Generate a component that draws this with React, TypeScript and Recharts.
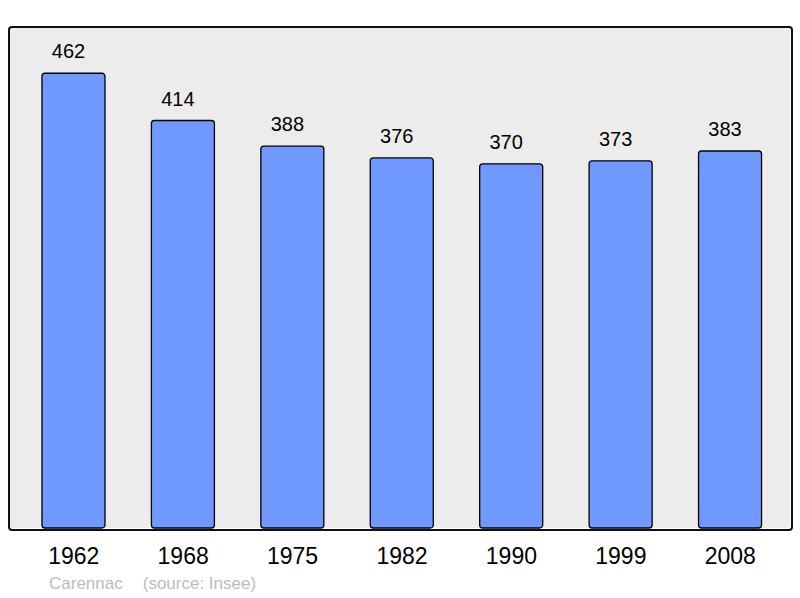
import { BarChart, Bar, XAxis, YAxis, LabelList } from 'recharts';

const years = ['1962', '1968', '1975', '1982', '1990', '1999', '2008'];
const population = [462, 414, 388, 376, 370, 373, 383];
const footerTitle = 'Carennac';
const footerSource = '(source: Insee)';

const data = years.map((year, i) => ({ year, population: population[i] }));

const FONT = '"Liberation Sans", Arial, sans-serif';

// value above each bar, set a little left of the bar centre like the original
const renderValue = (props: any) => {
	const { x, y, width, value } = props;
	return (
		<text
			x={Number(x) + Number(width) / 2 - 5}
			y={Number(y) - 15}
			textAnchor="middle"
			fill="#000"
			fontSize={20}
			fontFamily={FONT}
		>
			{value}
		</text>
	);
};

export default function App() {
	return (
		<div style={{ position: 'absolute', left: 0, top: 0, width: 800, height: 598, fontFamily: FONT }}>
			{/* plot background */}
			<div
				style={{
					position: 'absolute',
					left: 9,
					top: 27,
					width: 781,
					height: 501,
					background: '#ececec',
					borderRadius: 4,
				}}
			/>
			<div style={{ position: 'absolute', left: 0, top: 0 }}>
				<BarChart
					width={800}
					height={598}
					data={data}
					margin={{ top: 27, right: 10, bottom: 30, left: 9 }}
					barCategoryGap="21%"
				>
					<XAxis
						dataKey="year"
						axisLine={false}
						tickLine={false}
						height={40}
						tickMargin={14}
						padding={{ left: 10, right: 5 }}
						tick={{ fill: '#000', fontSize: 23, fontFamily: FONT }}
					/>
					<YAxis hide domain={[0, 509]} />
					<Bar
						dataKey="population"
						fill="#7099ff"
						stroke="#000"
						strokeWidth={1.3}
						radius={3}
						isAnimationActive={false}
					>
						<LabelList dataKey="population" content={renderValue} />
					</Bar>
				</BarChart>
			</div>
			{/* frame on top */}
			<div
				style={{
					position: 'absolute',
					left: 8,
					top: 26,
					width: 781,
					height: 501,
					border: '2px solid #111',
					borderRadius: 4,
					pointerEvents: 'none',
				}}
			/>
			<div
				style={{
					position: 'absolute',
					left: 49,
					top: 574,
					fontSize: 17,
					color: '#bbbbbb',
					whiteSpace: 'pre',
				}}
			>
				{footerTitle}
				<span style={{ marginLeft: 20 }}>{footerSource}</span>
			</div>
		</div>
	);
}
